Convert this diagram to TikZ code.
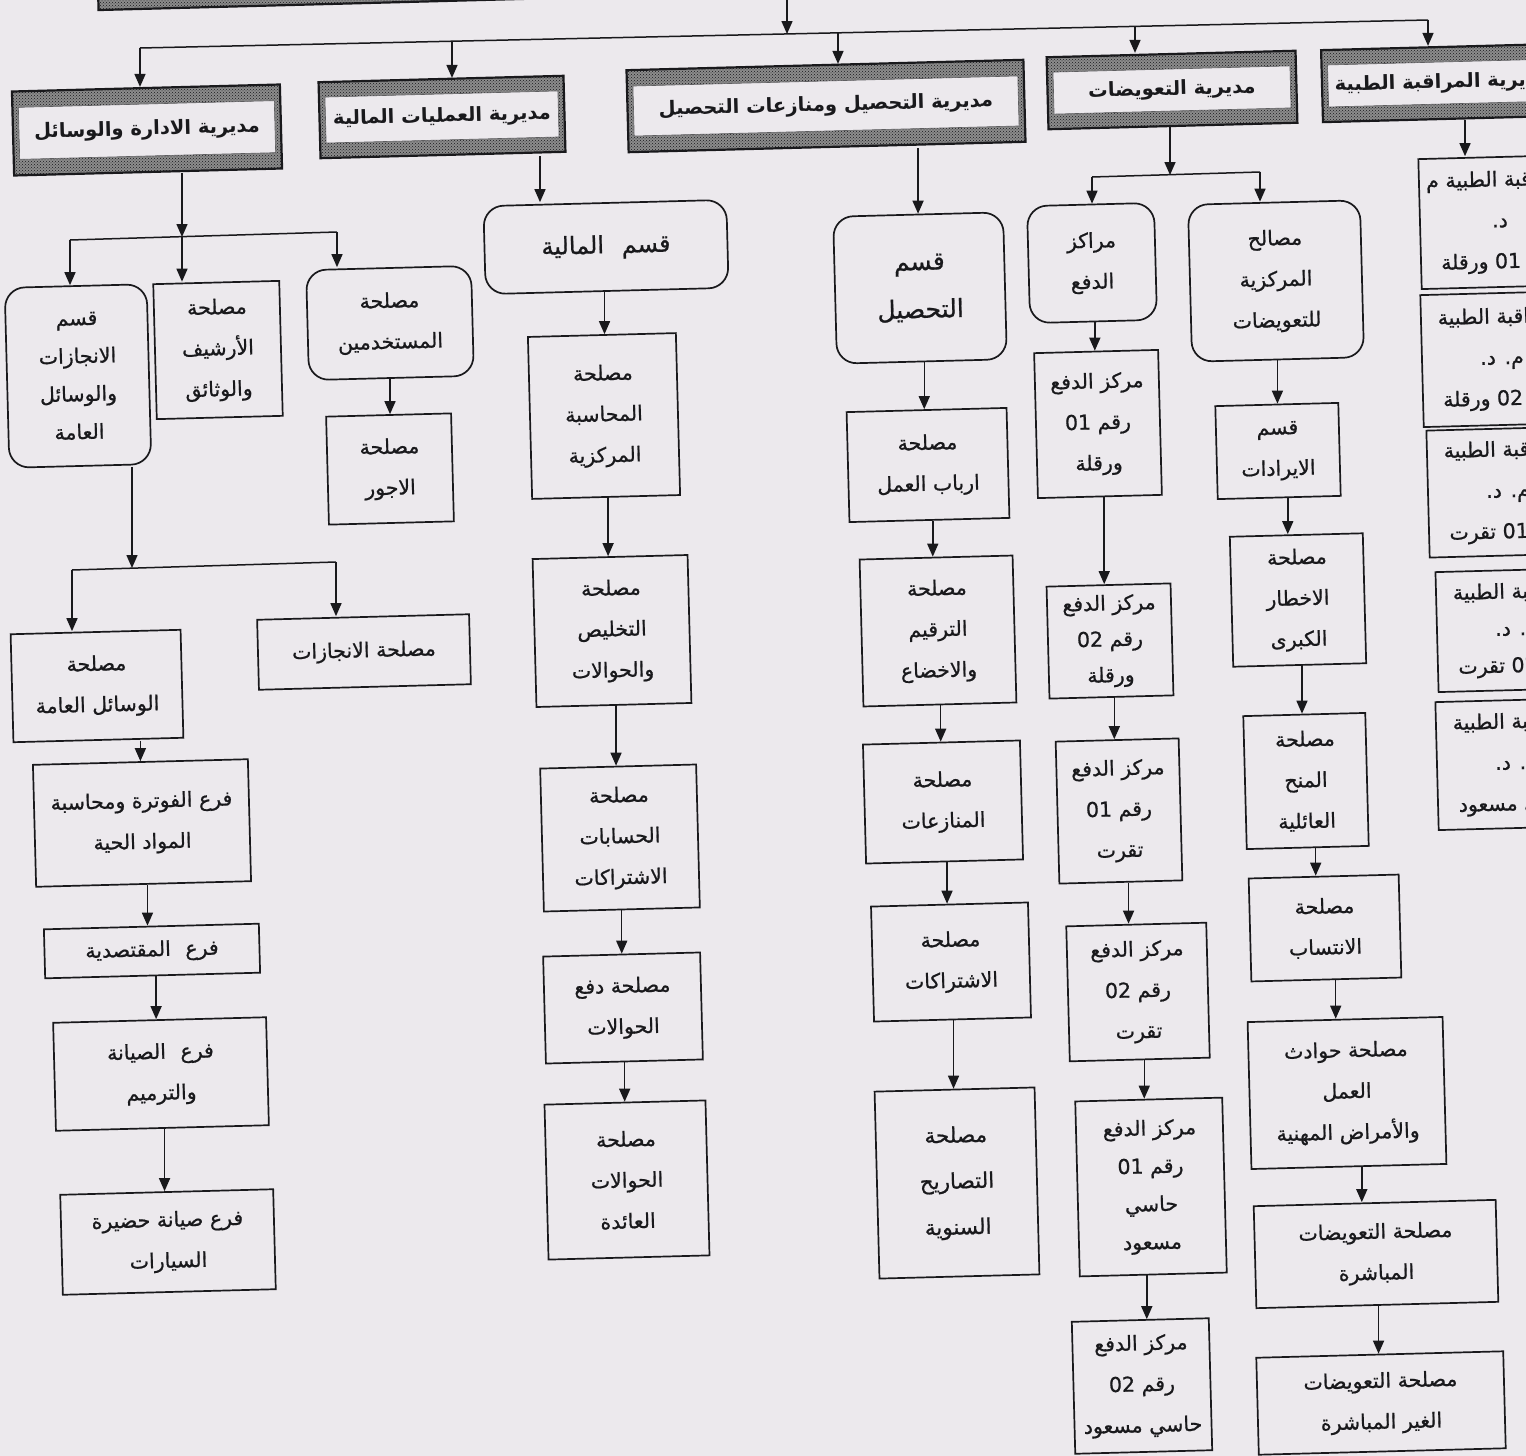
\documentclass[tikz,border=0pt]{standalone}
\usepackage{fontspec}
\usetikzlibrary{arrows.meta,calc,patterns}
\TeXXeTstate=1
\newfontfamily\arabicfont[Script=Arabic,FakeBold=0.8]{DejaVu Sans}
\newfontfamily\arabichead[Script=Arabic]{DejaVu Sans}
\newcommand{\AR}[1]{\beginR #1\endR}
\newcommand{\numL}[1]{\beginL #1\endL{}}
\definecolor{paper}{RGB}{236,233,237}
\definecolor{ink}{RGB}{25,25,28}
% vertical arrow between two stacked boxes, halfway between their centres
\newcommand{\chainto}[2]{\draw[arr] let \p1=(#1.south), \p2=(#2.north) in ({(\x1+\x2)/2},\y1) -- ({(\x1+\x2)/2},\y2);}

\begin{document}
\begin{tikzpicture}[x=1pt,y=-1pt,
  every node/.style={rotate=1.5, text=ink, align=center, inner sep=0pt,
    font=\arabicfont\fontsize{20.5}{41}\selectfont},
  unit/.style={draw=ink, line width=1.7pt, fill=paper},
  rnd/.style={unit, rounded corners=20pt},
  hdrout/.style={draw=ink, line width=2.2pt, preaction={fill=black!45},
    pattern=crosshatch dots, pattern color=ink},
  hdrin/.style={draw=ink!70, line width=0.6pt, fill=paper,
    font=\arabichead\bfseries\fontsize{19.5}{24}\selectfont},
  arr/.style={draw=ink, line width=1.5pt, -{Triangle[length=13pt,width=11pt]}},
  link/.style={draw=ink, line width=1.5pt}
]
\useasboundingbox (0,0) rectangle (1526,1456);
\clip (0,0) rectangle (1526,1456);
\fill[paper] (0,0) rectangle (1526,1456);

% ---------- general direction (top, mostly outside the sheet) ----------
\node[hdrout, minimum width=1380pt, minimum height=100pt] (top) at (787,-58) {};

% ---------- directorates ----------
\node[hdrout, minimum width=268pt, minimum height=84pt] (d1) at (147,130) {};
\node[hdrin, minimum width=256pt, minimum height=52pt] (d1t) at (d1.center) {\AR{مديرية الادارة والوسائل}};
\node[hdrout, minimum width=245pt, minimum height=76pt] (d2) at (442,117) {};
\node[hdrin, minimum width=233pt, minimum height=46pt] (d2t) at (d2.center) {\AR{مديرية العمليات المالية}};
\node[hdrout, minimum width=397pt, minimum height=82pt] (d3) at (826,106) {};
\node[hdrin, minimum width=385pt, minimum height=50pt] (d3t) at (d3.center) {\AR{مديرية التحصيل ومنازعات التحصيل}};
\node[hdrout, minimum width=249pt, minimum height=72pt] (d4) at (1172,90) {};
\node[hdrin, minimum width=237pt, minimum height=42pt] (d4t) at (d4.center) {\AR{مديرية التعويضات}};
\node[hdrout, minimum width=240pt, minimum height=72pt] (d5) at (1442,83) {};
\node[hdrin, minimum width=228pt, minimum height=42pt] (d5t) at (d5.center) {\AR{مديرية المراقبة الطبية}};

% main distribution line
\coordinate (m1) at (140,48);
\coordinate (m5) at (1428,20);
\coordinate (jt) at (787,34);
\coordinate (j2) at (452,41);
\coordinate (j3) at (838,33);
\coordinate (j4) at (1135,26);
\draw[link] (m1) -- (m5);
\draw[arr] (top.south -| jt) -- (jt);
\draw[arr] (m1) -- (d1.north -| m1);
\draw[arr] (j2) -- (d2.north -| j2);
\draw[arr] (j3) -- (d3.north -| j3);
\draw[arr] (j4) -- (d4.north -| j4);
\draw[arr] (m5) -- (d5.north -| m5);

% ---------- administration and general means ----------
\node[rnd, minimum width=142pt, minimum height=180pt, font=\arabicfont\fontsize{20.5}{38}\selectfont] (qA) at (78,376) {\AR{قسم}\\\AR{الانجازات}\\\AR{والوسائل}\\\AR{العامة}};
\node[unit, minimum width=126pt, minimum height=135pt] (arch) at (218,350) {\AR{مصلحة}\\\AR{الأرشيف}\\\AR{والوثائق}};
\node[rnd, minimum width=165pt, minimum height=110pt] (emp) at (390,323) {\AR{مصلحة}\\\AR{المستخدمين}};
\node[unit, minimum width=125pt, minimum height=108pt] (wage) at (390,469) {\AR{مصلحة}\\\AR{الاجور}};
\node[unit, minimum width=212pt, minimum height=70pt] (inj) at (364,652) {\AR{مصلحة الانجازات}};
\node[unit, minimum width=170pt, minimum height=108pt] (gen) at (97,686) {\AR{مصلحة}\\\AR{الوسائل العامة}};
\node[unit, minimum width=215pt, minimum height=122pt] (fat) at (142,823) {\AR{فرع الفوترة ومحاسبة}\\\AR{المواد الحية}};
\node[unit, minimum width=215pt, minimum height=49pt] (maq) at (152,951) {\AR{فرع\hspace{8pt} المقتصدية}};
\node[unit, minimum width=213pt, minimum height=108pt] (sai) at (161,1074) {\AR{فرع\hspace{8pt} الصيانة}\\\AR{والترميم}};
\node[unit, minimum width=213pt, minimum height=100pt] (had) at (168,1242) {\AR{فرع صيانة حضيرة}\\\AR{السيارات}};

\coordinate (aL) at (70,240);
\coordinate (aM) at (182,237);
\coordinate (aR) at (337,232);
\draw[link] (aL) -- (aR);
\draw[arr] (d1.south -| aM) -- (aM);
\draw[arr] (aL) -- (qA.north -| aL);
\draw[arr] (aM) -- (arch.north -| aM);
\draw[arr] (aR) -- (emp.north -| aR);
\chainto{emp}{wage}
\coordinate (bL) at (72,570);
\coordinate (bM) at (132,568);
\coordinate (bR) at (336,562);
\draw[link] (bL) -- (bR);
\draw[arr] (qA.south -| bM) -- (bM);
\draw[arr] (bL) -- (gen.north -| bL);
\draw[arr] (bR) -- (inj.north -| bR);
\draw[arr] (fat.north |- gen.south) -- (fat.north);
\chainto{fat}{maq}
\chainto{maq}{sai}
\chainto{sai}{had}

% ---------- financial operations ----------
\node[rnd, minimum width=243pt, minimum height=88pt, font=\arabicfont\fontsize{24}{40}\selectfont] (qM) at (606,247) {\AR{قسم\hspace{10pt} المالية}};
\node[unit, minimum width=148pt, minimum height=162pt] (acc) at (604,416) {\AR{مصلحة}\\\AR{المحاسبة}\\\AR{المركزية}};
\node[unit, minimum width=155pt, minimum height=148pt] (tak) at (612,631) {\AR{مصلحة}\\\AR{التخليص}\\\AR{والحوالات}};
\node[unit, minimum width=156pt, minimum height=143pt] (hes) at (620,838) {\AR{مصلحة}\\\AR{الحسابات}\\\AR{الاشتراكات}};
\node[unit, minimum width=157pt, minimum height=107pt] (daf) at (623,1008) {\AR{مصلحة دفع}\\\AR{الحوالات}};
\node[unit, minimum width=161pt, minimum height=155pt] (aid) at (627,1180) {\AR{مصلحة}\\\AR{الحوالات}\\\AR{العائدة}};
\coordinate (xB) at (540,0);
\draw[arr] (d2.south -| xB) -- (qM.north -| xB);
\chainto{qM}{acc}
\chainto{acc}{tak}
\chainto{tak}{hes}
\chainto{hes}{daf}
\chainto{daf}{aid}

% ---------- collection and disputes ----------
\node[rnd, minimum width=170pt, minimum height=147pt, font=\arabicfont\fontsize{25}{48}\selectfont] (qT) at (920,288) {\AR{قسم}\\\AR{التحصيل}};
\node[unit, minimum width=160pt, minimum height=110pt] (arb) at (928,465) {\AR{مصلحة}\\\AR{ارباب العمل}};
\node[unit, minimum width=153pt, minimum height=147pt] (raq) at (938,631) {\AR{مصلحة}\\\AR{الترقيم}\\\AR{والاخضاع}};
\node[unit, minimum width=157pt, minimum height=119pt] (mon) at (943,802) {\AR{مصلحة}\\\AR{المنازعات}};
\node[unit, minimum width=157pt, minimum height=115pt] (ish) at (951,962) {\AR{مصلحة}\\\AR{الاشتراكات}};
\node[unit, minimum width=160pt, minimum height=187pt, font=\arabicfont\fontsize{21.5}{46}\selectfont] (tas) at (957,1183) {\AR{مصلحة}\\\AR{التصاريح}\\\AR{السنوية}};
\draw[arr] (d3.south -| qT.north) -- (qT.north);
\chainto{qT}{arb}
\chainto{arb}{raq}
\chainto{raq}{mon}
\chainto{mon}{ish}
\chainto{ish}{tas}

% ---------- compensations ----------
\node[rnd, minimum width=127pt, minimum height=117pt] (mrk) at (1092,263) {\AR{مراكز}\\\AR{الدفع}};
\node[rnd, minimum width=172pt, minimum height=157pt] (msl) at (1276,281) {\AR{مصالح}\\\AR{المركزية}\\\AR{للتعويضات}};
\node[unit, minimum width=124pt, minimum height=145pt] (p1) at (1098,424) {\AR{مركز الدفع}\\\AR{رقم \numL{01}}\\\AR{ورقلة}};
\node[unit, minimum width=124pt, minimum height=112pt, font=\arabicfont\fontsize{20.5}{36}\selectfont] (p2) at (1110,641) {\AR{مركز الدفع}\\\AR{رقم \numL{02}}\\\AR{ورقلة}};
\node[unit, minimum width=123pt, minimum height=142pt] (p3) at (1119,811) {\AR{مركز الدفع}\\\AR{رقم \numL{01}}\\\AR{تقرت}};
\node[unit, minimum width=140pt, minimum height=135pt] (p4) at (1138,992) {\AR{مركز الدفع}\\\AR{رقم \numL{02}}\\\AR{تقرت}};
\node[unit, minimum width=147pt, minimum height=175pt, font=\arabicfont\fontsize{20.5}{38}\selectfont] (p5) at (1151,1187) {\AR{مركز الدفع}\\\AR{رقم \numL{01}}\\\AR{حاسي}\\\AR{مسعود}};
\node[unit, minimum width=137pt, minimum height=132pt] (p6) at (1142,1386) {\AR{مركز الدفع}\\\AR{رقم \numL{02}}\\\AR{حاسي مسعود}};

\node[unit, minimum width=123pt, minimum height=93pt] (rev) at (1278,451) {\AR{قسم}\\\AR{الايرادات}};
\node[unit, minimum width=133pt, minimum height=130pt] (akh) at (1298,600) {\AR{مصلحة}\\\AR{الاخطار}\\\AR{الكبرى}};
\node[unit, minimum width=122pt, minimum height=133pt] (mnh) at (1306,781) {\AR{مصلحة}\\\AR{المنح}\\\AR{العائلية}};
\node[unit, minimum width=150pt, minimum height=103pt] (ins) at (1325,928) {\AR{مصلحة}\\\AR{الانتساب}};
\node[unit, minimum width=195pt, minimum height=147pt] (haw) at (1347,1093) {\AR{مصلحة حوادث}\\\AR{العمل}\\\AR{والأمراض المهنية}};
\node[unit, minimum width=242pt, minimum height=102pt] (mub) at (1376,1254) {\AR{مصلحة التعويضات}\\\AR{المباشرة}};
\node[unit, minimum width=247pt, minimum height=97pt] (ghr) at (1381,1403) {\AR{مصلحة التعويضات}\\\AR{الغير المباشرة}};

\coordinate (dL) at (1092,177);
\coordinate (dM) at (1170,175);
\coordinate (dR) at (1260,172);
\draw[link] (dL) -- (dR);
\draw[arr] (d4.south -| dM) -- (dM);
\draw[arr] (dL) -- (mrk.north -| dL);
\draw[arr] (dR) -- (msl.north -| dR);
\chainto{mrk}{p1}
\chainto{p1}{p2}
\chainto{p2}{p3}
\chainto{p3}{p4}
\chainto{p4}{p5}
\chainto{p5}{p6}
\chainto{msl}{rev}
\chainto{rev}{akh}
\chainto{akh}{mnh}
\chainto{mnh}{ins}
\chainto{ins}{haw}
\chainto{haw}{mub}
\chainto{mub}{ghr}

% ---------- medical control (running off the right edge) ----------
\node[unit, minimum width=160pt, minimum height=130pt] (f1) at (1500,222) {\AR{المراقبة الطبية م}\\\AR{د.}\\\AR{رقم \numL{01} ورقلة}};
\node[unit, minimum width=160pt, minimum height=132pt] (f2) at (1502,359) {\AR{المراقبة الطبية}\\\AR{م. د.}\\\AR{رقم \numL{02} ورقلة}};
\node[unit, minimum width=160pt, minimum height=127pt] (f3) at (1508,492) {\AR{المراقبة الطبية}\\\AR{م. د.}\\\AR{رقم \numL{01} تقرت}};
\node[unit, minimum width=160pt, minimum height=120pt, font=\arabicfont\fontsize{20.5}{37}\selectfont] (f4) at (1517,630) {\AR{المراقبة الطبية}\\\AR{م. د.}\\\AR{رقم \numL{02} تقرت}};
\node[unit, minimum width=160pt, minimum height=128pt] (f5) at (1517,764) {\AR{المراقبة الطبية}\\\AR{م. د.}\\\AR{حاسي مسعود}};
\coordinate (xF) at (1465,0);
\draw[arr] (d5.south -| xF) -- (f1.north -| xF);
\end{tikzpicture}
\end{document}
